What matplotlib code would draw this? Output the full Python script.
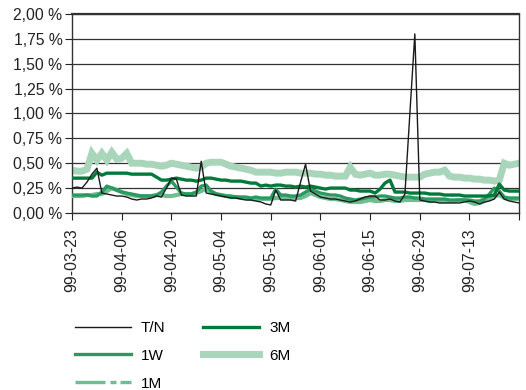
import matplotlib
matplotlib.use("Agg")
import matplotlib.pyplot as plt
from matplotlib.lines import Line2D
from matplotlib.ticker import FuncFormatter, MultipleLocator
import pandas as pd

# business days 99-03-23 .. 99-07-27
dates = pd.bdate_range("1999-03-23", "1999-07-27")
date_labels = [d.strftime("%y-%m-%d") for d in dates]

tn = [0.25, 0.26, 0.25, 0.31, 0.39, 0.45, 0.20, 0.19, 0.18, 0.17,
      0.17, 0.16, 0.14, 0.13, 0.14, 0.14, 0.15, 0.17, 0.16, 0.25,
      0.35, 0.34, 0.18, 0.17, 0.17, 0.17, 0.52, 0.20, 0.19, 0.18,
      0.17, 0.16, 0.15, 0.15, 0.14, 0.13, 0.13, 0.12, 0.11, 0.09,
      0.08, 0.23, 0.13, 0.13, 0.13, 0.12, 0.31, 0.49, 0.22, 0.19,
      0.16, 0.15, 0.14, 0.14, 0.13, 0.12, 0.11, 0.12, 0.14, 0.16,
      0.17, 0.17, 0.13, 0.13, 0.14, 0.12, 0.11, 0.19, 1.00, 1.80,
      0.13, 0.12, 0.11, 0.11, 0.10, 0.10, 0.10, 0.10, 0.10, 0.11,
      0.12, 0.11, 0.09, 0.11, 0.12, 0.14, 0.21, 0.14, 0.12, 0.11,
      0.10]

w1 = [0.18, 0.18, 0.18, 0.18, 0.17, 0.17, 0.21, 0.27, 0.25, 0.23,
      0.21, 0.20, 0.19, 0.18, 0.17, 0.17, 0.17, 0.18, 0.21, 0.27,
      0.32, 0.26, 0.20, 0.19, 0.19, 0.21, 0.27, 0.28, 0.22, 0.19,
      0.18, 0.17, 0.17, 0.16, 0.16, 0.16, 0.15, 0.16, 0.15, 0.15,
      0.15, 0.24, 0.18, 0.18, 0.17, 0.17, 0.18, 0.21, 0.24, 0.22,
      0.20, 0.19, 0.18, 0.18, 0.17, 0.15, 0.14, 0.13, 0.14, 0.15,
      0.16, 0.16, 0.17, 0.17, 0.16, 0.15, 0.15, 0.16, 0.16, 0.15,
      0.15, 0.14, 0.14, 0.14, 0.14, 0.14, 0.13, 0.13, 0.13, 0.13,
      0.13, 0.12, 0.12, 0.14, 0.19, 0.25, 0.22, 0.16, 0.15, 0.15,
      0.15]

m1 = [0.17, 0.17, 0.17, 0.18, 0.18, 0.19, 0.19, 0.22, 0.25, 0.23,
      0.21, 0.19, 0.18, 0.17, 0.17, 0.17, 0.17, 0.18, 0.18, 0.17,
      0.17, 0.18, 0.19, 0.19, 0.19, 0.20, 0.22, 0.24, 0.21, 0.19,
      0.18, 0.17, 0.16, 0.16, 0.15, 0.15, 0.14, 0.14, 0.14, 0.14,
      0.14, 0.15, 0.15, 0.15, 0.15, 0.15, 0.15, 0.17, 0.20, 0.18,
      0.16, 0.15, 0.14, 0.14, 0.13, 0.12, 0.11, 0.11, 0.11, 0.12,
      0.13, 0.12, 0.12, 0.13, 0.13, 0.12, 0.12, 0.13, 0.13, 0.13,
      0.13, 0.13, 0.12, 0.12, 0.12, 0.12, 0.12, 0.12, 0.13, 0.13,
      0.11, 0.09, 0.10, 0.12, 0.14, 0.17, 0.18, 0.15, 0.14, 0.14,
      0.14]

m3 = [0.35, 0.35, 0.35, 0.35, 0.35, 0.41, 0.38, 0.40, 0.40, 0.40,
      0.40, 0.40, 0.39, 0.39, 0.39, 0.39, 0.39, 0.36, 0.33, 0.33,
      0.34, 0.35, 0.34, 0.33, 0.33, 0.32, 0.33, 0.35, 0.35, 0.34,
      0.33, 0.33, 0.32, 0.32, 0.32, 0.31, 0.30, 0.30, 0.27, 0.28,
      0.27, 0.28, 0.28, 0.27, 0.27, 0.26, 0.27, 0.26, 0.27, 0.26,
      0.25, 0.24, 0.25, 0.25, 0.25, 0.25, 0.23, 0.23, 0.22, 0.22,
      0.22, 0.20, 0.24, 0.30, 0.33, 0.21, 0.21, 0.21, 0.20, 0.20,
      0.20, 0.20, 0.19, 0.19, 0.19, 0.18, 0.18, 0.18, 0.18, 0.17,
      0.17, 0.17, 0.17, 0.17, 0.17, 0.18, 0.29, 0.23, 0.22, 0.22,
      0.22]

m6 = [0.43, 0.42, 0.42, 0.44, 0.60, 0.53, 0.60, 0.53, 0.61, 0.54,
      0.55, 0.60, 0.50, 0.50, 0.50, 0.49, 0.49, 0.48, 0.47, 0.48,
      0.50, 0.49, 0.48, 0.47, 0.46, 0.45, 0.46, 0.50, 0.51, 0.51,
      0.51, 0.49, 0.47, 0.46, 0.45, 0.44, 0.43, 0.41, 0.41, 0.41,
      0.41, 0.40, 0.40, 0.41, 0.41, 0.41, 0.40, 0.40, 0.40, 0.39,
      0.39, 0.38, 0.38, 0.37, 0.37, 0.37, 0.46, 0.39, 0.38, 0.39,
      0.40, 0.38, 0.38, 0.39, 0.39, 0.38, 0.37, 0.36, 0.36, 0.36,
      0.36, 0.39, 0.40, 0.41, 0.41, 0.43, 0.37, 0.36, 0.36, 0.35,
      0.35, 0.34, 0.34, 0.33, 0.33, 0.32, 0.33, 0.50, 0.48, 0.49,
      0.50]

series_names = ["T/N", "1W", "1M", "3M", "6M"]

plt.rcParams["font.family"] = ["Liberation Sans", "DejaVu Sans"]

fig = plt.figure(figsize=(5.26, 3.9), dpi=100)
ax = fig.add_axes([0.137, 0.454, 0.850, 0.510])

x = list(range(len(dates)))

ax.plot(x, m6, color="#a9d5ba", lw=5.0, solid_joinstyle="miter", zorder=2)
ax.plot(x, m1, color="#6fbd91", lw=3.0, zorder=3)
ax.plot(x, w1, color="#2b9a60", lw=2.4, zorder=4)
ax.plot(x, m3, color="#007a3a", lw=2.4, zorder=5)
ax.plot(x, tn, color="#1a1a1a", lw=1.0, zorder=6)

ax.set_xlim(0, len(dates) - 1)
ax.set_ylim(0, 2.0)
ax.yaxis.set_major_locator(MultipleLocator(0.25))
ax.yaxis.set_major_formatter(
    FuncFormatter(lambda v, p: f"{v:.2f} %".replace(".", ",")))
ax.grid(axis="y", color="#333333", lw=0.9, zorder=1)

# a label every 10 business days, last tick at the end of the axis unlabelled
tick_pos = x[::10]
tick_lab = [date_labels[i] if i < 85 else "" for i in tick_pos]
ax.set_xticks(tick_pos)
ax.set_xticklabels(tick_lab, rotation=90)
ax.tick_params(axis="both", labelsize=11.3, colors="#222222",
               direction="out", length=5, width=0.8)
ax.tick_params(axis="x", pad=6)
ax.tick_params(axis="y", pad=2)

for s in ax.spines.values():
    s.set_color("#333333")
    s.set_linewidth(1.0)
ax.spines["top"].set_linewidth(1.6)

handles = [
    Line2D([], [], color="#1a1a1a", lw=1.0),
    Line2D([], [], color="#2b9a60", lw=2.4),
    Line2D([], [], color="#6fbd91", lw=2.4, dashes=(9, 1.5, 1.8, 1.2)),
    Line2D([], [], color="#007a3a", lw=2.4),
    Line2D([], [], color="#a9d5ba", lw=5.0),
]
fig.legend(handles, series_names, ncol=2, loc="upper left",
           bbox_to_anchor=(0.116, 0.212), frameon=False,
           fontsize=11, handlelength=3.66, labelspacing=0.9,
           columnspacing=2.5, handletextpad=0.65)

fig.savefig("out.png", dpi=100)
